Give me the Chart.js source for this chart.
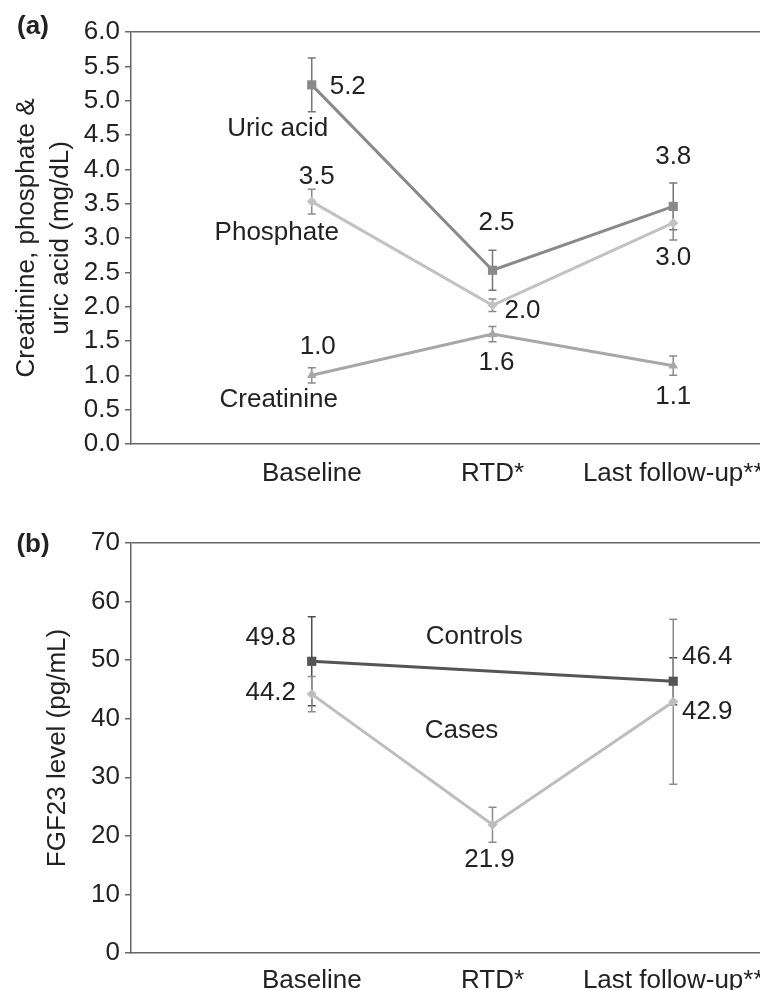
<!DOCTYPE html>
<html>
<head>
<meta charset="utf-8">
<script src="https://cdn.jsdelivr.net/npm/chart.js@4.4.0/dist/chart.umd.min.js"></script>
<style>
  html, body { margin: 0; padding: 0; background: #fff; }
  #wrap { position: relative; width: 760px; height: 990px; }
  .panel { position: absolute; left: 0; width: 760px; height: 495px; }
</style>
</head>
<body>
<div id="wrap">
  <div class="panel" style="top:0"><canvas id="chartA" width="760" height="495"></canvas></div>
  <div class="panel" style="top:495px"><canvas id="chartB" width="760" height="495"></canvas></div>
</div>
<script>
// categories along the x axis
const categories = ['Baseline', 'RTD*', 'Last follow-up**'];

// panel (a), mg/dL
const uricAcid       = [5.23, 2.53, 3.46];
const uricAcidErr    = [0.39, 0.29, 0.34];
const uricAcidText   = ['5.2', '2.5', '3.8'];
const phosphate      = [3.53, 2.02, 3.22];
const phosphateErr   = [0.18, 0.09, 0.25];
const phosphateText  = ['3.5', '2.0', '3.0'];
const creatinine     = [1.00, 1.60, 1.14];
const creatinineErr  = [0.11, 0.11, 0.14];
const creatinineText = ['1.0', '1.6', '1.1'];

// panel (b), FGF23 pg/mL
const controls      = [49.8, null, 46.4];
const controlsErr   = [7.6, null, 4.0];
const controlsText  = ['49.8', '', '46.4'];
const cases         = [44.2, 21.9, 42.9];
const casesErr      = [3.0, 3.0, 14.1];
const casesText     = ['44.2', '21.9', '42.9'];

const FONT = "'Liberation Sans', Arial, Helvetica, sans-serif";
Chart.defaults.font.family = FONT;
Chart.defaults.font.size = 26;
Chart.defaults.color = '#222';

const toPoints = (arr) => arr.map((v, i) => ({ x: i + 1, y: v }));

// error bars under the lines, value/name labels and panel letter on top
const overlay = {
    id: 'overlay',
    beforeDatasetsDraw(chart) {
        const ctx = chart.ctx, xs = chart.scales.x, ys = chart.scales.y;
        ctx.save();
        chart.data.datasets.forEach((ds) => {
            ds.errors.forEach((e, i) => {
                const v = ds.data[i].y;
                if (v == null || e == null) return;
                const px = xs.getPixelForValue(i + 1);
                const top = ys.getPixelForValue(v + e);
                const bot = ys.getPixelForValue(v - e);
                ctx.strokeStyle = ds.errorColor;
                ctx.lineWidth = 1.5;
                ctx.beginPath();
                ctx.moveTo(px, top); ctx.lineTo(px, bot);
                ctx.moveTo(px - 4, top); ctx.lineTo(px + 4, top);
                ctx.moveTo(px - 4, bot); ctx.lineTo(px + 4, bot);
                ctx.stroke();
            });
        });
        ctx.restore();
    },
    afterDatasetsDraw(chart, args, opts) {
        const ctx = chart.ctx, xs = chart.scales.x, ys = chart.scales.y;
        ctx.save();
        ctx.fillStyle = '#222';
        ctx.textAlign = 'center';
        ctx.textBaseline = 'middle';
        ctx.font = '26px ' + FONT;
        (opts.labels || []).forEach((l) => {
            const ds = chart.data.datasets[l.ds];
            const px = xs.getPixelForValue(l.i + 1);
            const py = ys.getPixelForValue(ds.data[l.i].y);
            ctx.fillText(l.text, px + l.dx, py + l.dy);
        });
        ctx.font = 'bold 26px ' + FONT;
        ctx.fillText(opts.panel, 33, opts.panelY);
        ctx.restore();
    }
};

function makeOptions(cfg) {
    return {
        responsive: false,
        animation: false,
        layout: { autoPadding: false, padding: { top: cfg.padTop, right: 0, bottom: 0, left: 0 } },
        plugins: {
            legend: { display: false },
            tooltip: { enabled: false },
            overlay: { labels: cfg.labels, panel: cfg.panel, panelY: cfg.panelY }
        },
        scales: {
            x: {
                type: 'linear',
                min: 0,
                max: 3.48,
                afterBuildTicks: (s) => { s.ticks = categories.map((c, i) => ({ value: i + 1 })); },
                afterFit: (s) => { s.height = cfg.xHeight; s.paddingLeft = 0; s.paddingRight = 0; },
                ticks: {
                    padding: cfg.xPad,
                    maxRotation: 0,
                    autoSkip: false,
                    callback: (v) => categories[v - 1]
                },
                grid: { display: false, drawTicks: false },
                border: { display: true, color: '#666', width: 1.5 }
            },
            y: {
                min: 0,
                max: cfg.yMax,
                afterFit: (s) => { s.width = 131; s.paddingTop = 0; s.paddingBottom = 0; },
                ticks: {
                    stepSize: cfg.yStep,
                    padding: 5,
                    callback: cfg.yFormat
                },
                grid: {
                    drawOnChartArea: true,
                    drawTicks: true,
                    tickLength: 6,
                    tickColor: '#666',
                    lineWidth: 1.5,
                    color: (c) => (c.tick && c.tick.value === cfg.yMax ? '#666' : 'rgba(0,0,0,0)')
                },
                border: { display: true, color: '#666', width: 1.5 },
                title: {
                    display: true,
                    text: cfg.yTitle,
                    font: { size: 26, lineHeight: 1.3 },
                    padding: { top: cfg.titlePad, bottom: 0 }
                }
            }
        }
    };
}

function series(data, errors, color, errorColor, style, radius) {
    return {
        data: toPoints(data),
        errors: errors,
        errorColor: errorColor,
        borderColor: color,
        backgroundColor: color,
        borderWidth: 3,
        pointStyle: style,
        pointRadius: radius,
        pointBorderWidth: 0,
        tension: 0,
        spanGaps: true
    };
}

new Chart(document.getElementById('chartA'), {
    type: 'line',
    data: {
        datasets: [
            series(uricAcid, uricAcidErr, '#8a8a8e', '#76767a', 'rect', 6.5),
            series(phosphate, phosphateErr, '#c2c2c2', '#8a8a8a', 'rectRot', 5),
            series(creatinine, creatinineErr, '#a7a7a7', '#8a8a8a', 'triangle', 5.5)
        ]
    },
    options: makeOptions({
        padTop: 32, xHeight: 51, xPad: 14, yMax: 6, yStep: 0.5,
        yFormat: (v) => v.toFixed(1),
        yTitle: ['Creatinine, phosphate &', 'uric acid (mg/dL)'],
        titlePad: 10,
        panel: '(a)', panelY: 27,
        labels: [
            { ds: 0, i: 0, text: uricAcidText[0], dx: 36, dy: 2 },
            { ds: 0, i: 1, text: uricAcidText[1], dx: 4, dy: -47 },
            { ds: 0, i: 2, text: uricAcidText[2], dx: 0, dy: -50 },
            { ds: 1, i: 0, text: phosphateText[0], dx: 5, dy: -25 },
            { ds: 1, i: 1, text: phosphateText[1], dx: 30, dy: 6 },
            { ds: 1, i: 2, text: phosphateText[2], dx: 0, dy: 35 },
            { ds: 2, i: 0, text: creatinineText[0], dx: 6, dy: -29 },
            { ds: 2, i: 1, text: creatinineText[1], dx: 4, dy: 29 },
            { ds: 2, i: 2, text: creatinineText[2], dx: 0, dy: 31 },
            { ds: 0, i: 0, text: 'Uric acid', dx: -34, dy: 44 },
            { ds: 1, i: 0, text: 'Phosphate', dx: -35, dy: 31 },
            { ds: 2, i: 0, text: 'Creatinine', dx: -33, dy: 24 }
        ]
    }),
    plugins: [overlay]
});

new Chart(document.getElementById('chartB'), {
    type: 'line',
    data: {
        datasets: [
            series(controls, controlsErr, '#555555', '#4a4a4a', 'rect', 6.5),
            series(cases, casesErr, '#bdbdbd', '#8c8c8c', 'rectRot', 5)
        ]
    },
    options: makeOptions({
        padTop: 48, xHeight: 37, xPad: 12, yMax: 70, yStep: 10,
        yFormat: (v) => String(v),
        yTitle: 'FGF23 level (pg/mL)',
        titlePad: 41,
        panel: '(b)', panelY: 50,
        labels: [
            { ds: 0, i: 0, text: controlsText[0], dx: -41, dy: -23 },
            { ds: 0, i: 2, text: controlsText[2], dx: 34, dy: -24 },
            { ds: 1, i: 0, text: casesText[0], dx: -41, dy: -1 },
            { ds: 1, i: 1, text: casesText[1], dx: -3, dy: 35 },
            { ds: 1, i: 2, text: casesText[2], dx: 34, dy: 10 },
            { ds: 0, i: 2, text: 'Controls', dx: -199, dy: -44 },
            { ds: 1, i: 1, text: 'Cases', dx: -31, dy: -94 }
        ]
    }),
    plugins: [overlay]
});
</script>
</body>
</html>
